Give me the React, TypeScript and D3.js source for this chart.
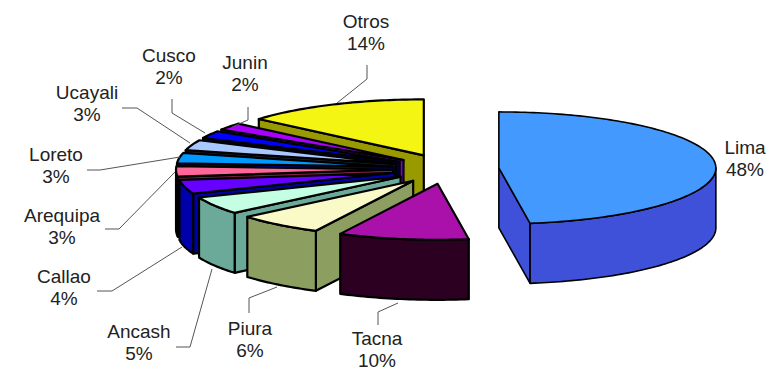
import React from "react";
import * as d3 from "d3";

const departments = ["Lima", "Tacna", "Piura", "Ancash", "Callao", "Arequipa", "Loreto", "Ucayali", "Cusco", "Junin", "Otros"];
const shares = [47.7, 9.7, 6.45, 5.1, 4, 3, 3, 3, 2.2, 2.1, 13.75];
const topColors = ["#4499ff", "#aa11aa", "#fafac8", "#c4ffe4", "#6600ff", "#ff6699", "#0099ff", "#a8c8ff", "#0000ff", "#aa00ff", "#f5f514"];
const wallColors = ["#3f51d8", "#2c0020", "#8c9e60", "#6baa98", "#0000aa", "#802040", "#0000cc", "#202840", "#000050", "#8000e0", "#999900"];

// label layout: text centre, first baseline, leader polyline
const labelLayout: Record<string, { x: number; y: number; leader: [number, number][] }> = {
  Lima: { x: 745, y: 154, leader: [] },
  Tacna: { x: 377, y: 345, leader: [[378, 325], [378, 312], [398, 303]] },
  Piura: { x: 250, y: 335, leader: [[249, 313], [249, 298], [277, 287]] },
  Ancash: { x: 139, y: 338, leader: [[176, 347], [190, 347], [212, 269]] },
  Callao: { x: 64, y: 283, leader: [[97, 291], [112, 291], [182, 247]] },
  Arequipa: { x: 62, y: 222, leader: [[105, 229], [119, 229], [175, 172]] },
  Loreto: { x: 56, y: 161, leader: [[87, 170], [100, 170], [180, 157]] },
  Ucayali: { x: 87, y: 99, leader: [[122, 108], [137, 108], [190, 143]] },
  Cusco: { x: 169, y: 62, leader: [[172, 99], [172, 113], [205, 133]] },
  Junin: { x: 245, y: 69, leader: [[248, 107], [248, 120], [232, 127]] },
  Otros: { x: 366, y: 28, leader: [[367, 65], [367, 79], [337, 103]] },
};

const width = 778;
const height = 371;
const cx = 446;
const cy = 169;
const rx = 217;
const ry = 56;
const depth = 60;
const explodeX = 53;
const explodeY = 15;

const pie = d3.pie<number>().sort(null).startAngle(0).endAngle(2 * Math.PI);
const line = d3.line();

function rimPoints(ox: number, oy: number, a0: number, a1: number, drop = 0): [number, number][] {
  const n = Math.max(2, Math.ceil((a1 - a0) / 0.02));
  return d3.range(n + 1).map((i) => {
    const a = a0 + ((a1 - a0) * i) / n;
    return [ox + rx * Math.sin(a), oy - ry * Math.cos(a) + drop] as [number, number];
  });
}

function Slice({ arc, index }: { arc: d3.PieArcDatum<number>; index: number }) {
  const { startAngle: a0, endAngle: a1 } = arc;
  const mid = (a0 + a1) / 2;
  const ox = cx + explodeX * Math.sin(mid);
  const oy = cy - explodeY * Math.cos(mid);
  const walls: [number, number][][] = [];

  const radial = (a: number): [number, number][] => {
    const p: [number, number] = [ox + rx * Math.sin(a), oy - ry * Math.cos(a)];
    return [[ox, oy], p, [p[0], p[1] + depth], [ox, oy + depth]];
  };
  if (Math.sin(a0) < -1e-6) walls.push(radial(a0));
  if (Math.sin(a1) > 1e-6) walls.push(radial(a1));

  const r0 = Math.max(a0, Math.PI / 2);
  const r1 = Math.min(a1, (3 * Math.PI) / 2);
  if (r1 > r0) {
    walls.push([...rimPoints(ox, oy, r0, r1), ...rimPoints(ox, oy, r0, r1, depth).reverse()]);
  }
  const top: [number, number][] = [[ox, oy], ...rimPoints(ox, oy, a0, a1)];

  return (
    <g stroke="#000" strokeWidth={index === 0 ? 1.6 : 2.2} strokeLinejoin="round">
      {walls.map((w, i) => (
        <path key={i} d={line(w) + "Z"} fill={wallColors[index]} />
      ))}
      <path d={line(top) + "Z"} fill={topColors[index]} />
    </g>
  );
}

export default function App() {
  const arcs = pie(shares);
  // painter's order: back slices first, going anticlockwise from Otros to Tacna, Lima last
  const order = d3.range(arcs.length).reverse();

  return (
    <svg
      width={width}
      height={height}
      style={{ position: "absolute", left: 0, top: 0, background: "#fff" }}
      fontFamily="'Liberation Sans', Arial, sans-serif"
    >
      {order.map((i) => (
        <Slice key={departments[i]} arc={arcs[i]} index={i} />
      ))}
      {departments.map((name, i) => {
        const l = labelLayout[name];
        return (
          <g key={name}>
            {l.leader.length > 0 && <path d={line(l.leader) ?? ""} fill="none" stroke="#555" strokeWidth={1} />}
            <text x={l.x} y={l.y} textAnchor="middle" fontSize={19} fill="#222">
              {name}
            </text>
            <text x={l.x} y={l.y + 22} textAnchor="middle" fontSize={19} fill="#222">
              {Math.round(shares[i])}%
            </text>
          </g>
        );
      })}
    </svg>
  );
}
